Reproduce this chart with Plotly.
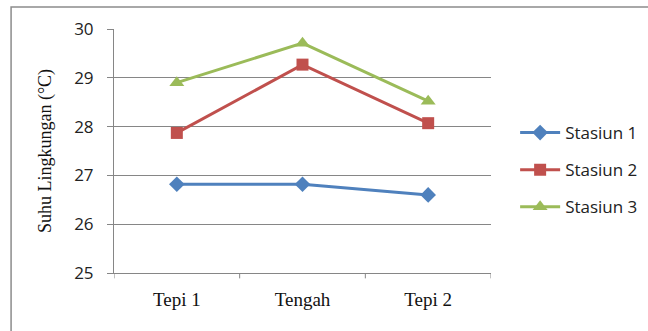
import plotly.graph_objects as go

categories = ["Tepi 1", "Tengah", "Tepi 2"]
stasiun_1 = [26.82, 26.82, 26.6]
stasiun_2 = [27.87, 29.27, 28.07]
stasiun_3 = [28.9, 29.71, 28.52]
y_ticks = [25, 26, 27, 28, 29, 30]

series = [
    ("Stasiun 1", stasiun_1, "#4F81BD", "diamond", 12),
    ("Stasiun 2", stasiun_2, "#C0504D", "square", 12),
    ("Stasiun 3", stasiun_3, "#9BBB59", "triangle-up", 13),
]

fig = go.Figure()
for name, vals, color, symbol, size in series:
    fig.add_trace(go.Scatter(
        x=categories, y=vals, name=name, mode="lines+markers",
        legendgroup=name,
        line=dict(color=color, width=3),
        marker=dict(symbol=symbol, size=size, color=color, line=dict(width=0)),
    ))

# outer chart frame
fig.add_shape(type="rect", xref="paper", yref="paper",
              x0=-0.273, y0=-0.3, x1=1.45, y1=1.09,
              line=dict(color="#8C8C8C", width=1.5), layer="below")

fig.update_layout(
    width=648, height=331,
    margin=dict(l=114, r=157, t=29, b=58, autoexpand=False),
    paper_bgcolor="white", plot_bgcolor="white",
    showlegend=True,
    legend=dict(x=1.064, y=0.422, xanchor="left", yanchor="middle",
                font=dict(family="Open Sans", size=17, color="#222"),
                traceorder="grouped", tracegroupgap=12, itemwidth=40),
    xaxis=dict(
        type="category", range=[-0.5, 2.5],
        showgrid=False, showline=True, linecolor="#868686", linewidth=1,
        ticks="", ticklabelstandoff=9,
        tickfont=dict(family="Liberation Serif", size=19, color="#111"),
    ),
    yaxis=dict(
        range=[25, 30], tickvals=y_ticks,
        showgrid=True, gridcolor="#868686", gridwidth=1,
        showline=True, linecolor="#868686", linewidth=1,
        ticks="outside", ticklen=6, tickcolor="#868686",
        ticklabelstandoff=10,
        tickfont=dict(family="Open Sans", size=17, color="#222"),
        title=dict(text="Suhu Lingkungan (°C)", standoff=17,
                   font=dict(family="Liberation Serif", size=18, color="#111")),
        zeroline=False,
    ),
)

# category boundary tick marks on the x axis
for i in range(4):
    fig.add_shape(type="line", xref="x", yref="paper",
                  x0=i - 0.5, x1=i - 0.5, y0=0, y1=-0.022,
                  line=dict(color="#868686", width=1))

fig.write_html("out.html")
